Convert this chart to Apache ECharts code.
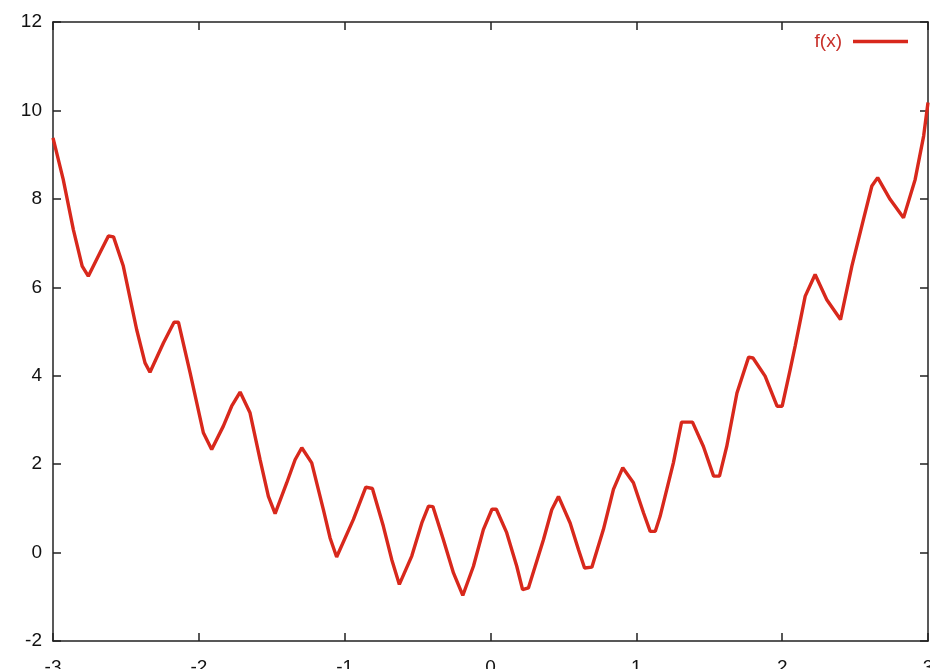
<!DOCTYPE html>
<html>
<head>
<meta charset="utf-8">
<script src="https://cdn.jsdelivr.net/npm/echarts@6/dist/echarts.min.js"></script>
<style>html,body{margin:0;padding:0;background:#fff}#c{width:930px;height:669px}</style>
</head>
<body>
<div id="c"></div>
<script>
const xValues = [-3.000,-2.930,-2.860,-2.800,-2.758,-2.678,-2.620,-2.585,-2.518,-2.426,-2.369,-2.335,-2.243,-2.170,-2.140,-2.060,-1.969,-1.912,-1.832,-1.775,-1.717,-1.649,-1.580,-1.523,-1.477,-1.397,-1.340,-1.294,-1.226,-1.146,-1.100,-1.055,-0.940,-0.855,-0.810,-0.735,-0.677,-0.625,-0.540,-0.471,-0.425,-0.395,-0.323,-0.254,-0.190,-0.117,-0.049,0.010,0.040,0.111,0.180,0.220,0.260,0.363,0.420,0.466,0.546,0.603,0.645,0.695,0.774,0.843,0.907,0.980,1.049,1.095,1.130,1.163,1.254,1.310,1.385,1.460,1.530,1.570,1.620,1.690,1.770,1.800,1.883,1.965,2.000,2.055,2.089,2.158,2.226,2.306,2.400,2.478,2.557,2.615,2.655,2.740,2.832,2.912,2.970,3.000];
const yValues = [9.38,8.44,7.30,6.48,6.25,6.78,7.16,7.14,6.48,5.04,4.29,4.08,4.74,5.21,5.21,4.07,2.71,2.33,2.86,3.31,3.63,3.16,2.10,1.27,0.88,1.58,2.10,2.37,2.03,0.97,0.33,-0.10,0.75,1.48,1.45,0.60,-0.16,-0.72,-0.08,0.67,1.05,1.04,0.29,-0.46,-0.97,-0.31,0.52,0.98,0.98,0.45,-0.31,-0.84,-0.80,0.29,0.97,1.27,0.67,0.07,-0.35,-0.33,0.52,1.43,1.92,1.58,0.90,0.48,0.48,0.82,2.03,2.95,2.95,2.40,1.73,1.73,2.40,3.61,4.42,4.40,3.99,3.31,3.31,4.14,4.67,5.80,6.29,5.72,5.27,6.48,7.53,8.29,8.48,7.99,7.57,8.44,9.42,10.18];
const seriesName = 'f(x)';
const xTicks = [-3,-2,-1,0,1,2,3];
const yTicks = [-2,0,2,4,6,8,10,12];

const data = xValues.map((x, i) => [x, yValues[i]]);
const lineColor = '#d8281c';
const font = 'Liberation Sans, Arial, sans-serif';
const axisLine = {show: true, onZero: false, lineStyle: {color: '#222', width: 1.5}};
const tick = {show: true, inside: true, length: 8, lineStyle: {color: '#222', width: 1.5}};

const chart = echarts.init(document.getElementById('c'), null, {renderer: 'canvas'});
chart.setOption({
  animation: false,
  backgroundColor: '#fff',
  grid: {left: 53, right: 2, top: 22, bottom: 28, containLabel: false, outerBoundsMode: 'none'},
  legend: {
    show: true, right: 17, top: 27, align: 'right',
    itemWidth: 55, itemHeight: 16, itemGap: 0,
    icon: 'path://M0,6.2 L55,6.2 L55,9.8 L0,9.8 Z',
    textStyle: {color: '#c8302a', fontFamily: font, fontSize: 19, padding: [0, 6, 0, 0]},
    data: [{name: seriesName, itemStyle: {color: lineColor}}]
  },
  xAxis: [
    {type: 'value', min: xTicks[0], max: xTicks[xTicks.length-1], interval: 1, position: 'bottom',
     axisLine, axisTick: tick, splitLine: {show: false},
     axisLabel: {color: '#111', fontFamily: font, fontSize: 19, margin: 17, formatter: v => String(v)}},
    {type: 'value', min: xTicks[0], max: xTicks[xTicks.length-1], interval: 1, position: 'top',
     axisLine, axisTick: tick, splitLine: {show: false}, axisLabel: {show: false}}
  ],
  yAxis: [
    {type: 'value', min: yTicks[0], max: yTicks[yTicks.length-1], interval: 2, position: 'left',
     axisLine, axisTick: tick, splitLine: {show: false},
     axisLabel: {color: '#111', fontFamily: font, fontSize: 19, margin: 11, formatter: v => String(v)}},
    {type: 'value', min: yTicks[0], max: yTicks[yTicks.length-1], interval: 2, position: 'right',
     axisLine, axisTick: tick, splitLine: {show: false}, axisLabel: {show: false}}
  ],
  series: [{
    name: seriesName, type: 'line', data: data, xAxisIndex: 0, yAxisIndex: 0,
    showSymbol: false, symbol: 'none', smooth: false,
    lineStyle: {color: lineColor, width: 3.4}, itemStyle: {color: lineColor}
  }]
});
</script>
</body>
</html>
